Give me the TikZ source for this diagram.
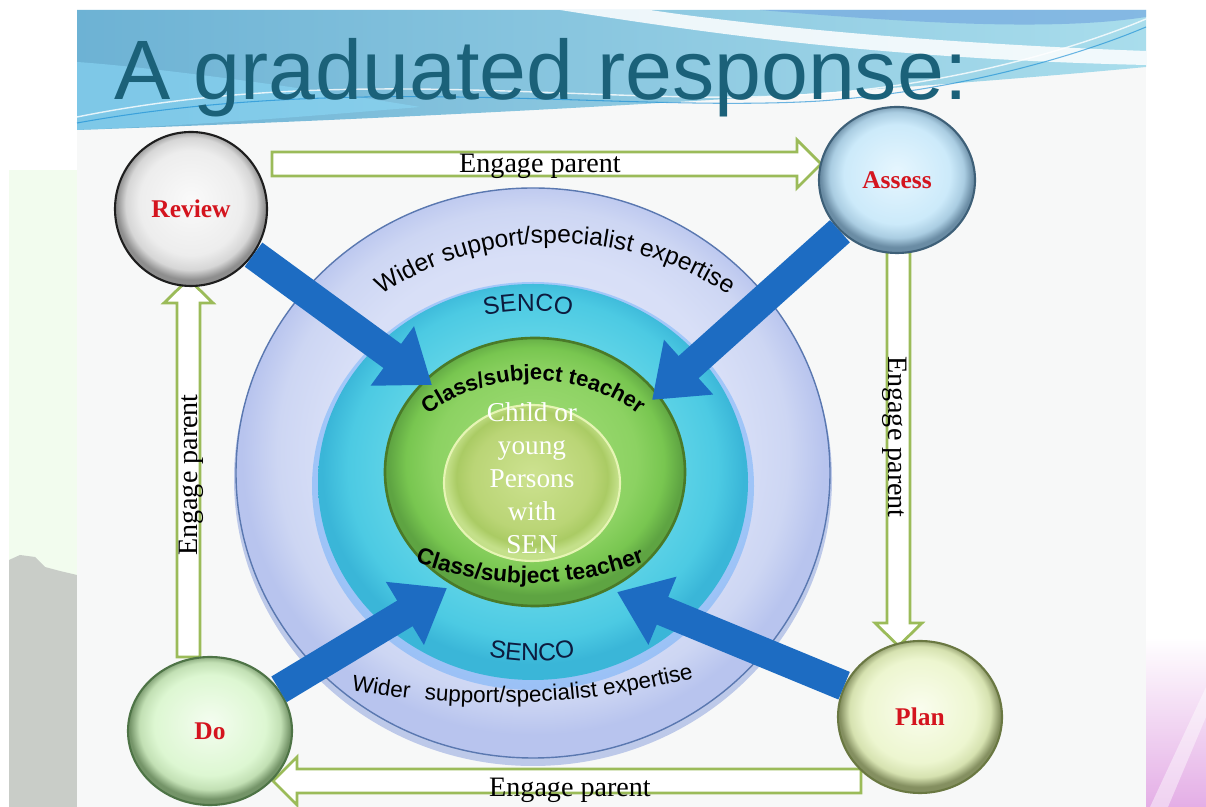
\documentclass[tikz,border=0pt]{standalone}
\usepackage{fontspec}
\setmainfont{Liberation Serif}
\setsansfont{Liberation Sans}
\usetikzlibrary{shapes.geometric,decorations.text,arrows.meta,calc}
\definecolor{titleC}{HTML}{1B6179}
\definecolor{hollowG}{HTML}{9BBB59}
\definecolor{blueA}{HTML}{1D6CC2}
\definecolor{labelRed}{HTML}{D4141E}
\definecolor{leftG}{HTML}{F2FCEE}
\definecolor{grayL}{HTML}{C9CDC8}
\definecolor{slideBG}{HTML}{F7F8F8}
\definecolor{bannerL}{HTML}{6DB2D4}
\definecolor{bannerR}{HTML}{A9DDEC}
\definecolor{ringEdge}{HTML}{5A78B0}
\definecolor{shadowBlue}{HTML}{8FA3DE}
\definecolor{greenEdge}{HTML}{4A7A28}
\definecolor{childEdge}{HTML}{E6F5B4}
\definecolor{senco}{HTML}{0D1B3E}
\definecolor{pinkR}{HTML}{E4AEE6}
\definecolor{revEdge}{HTML}{1E1E1E}
\definecolor{assEdge}{HTML}{3E6078}
\definecolor{doEdge}{HTML}{4E7446}
\definecolor{planEdge}{HTML}{6A7842}
\newcommand\mkshade[5]{%
  \definecolor{#1A}{HTML}{#2}\definecolor{#1B}{HTML}{#3}%
  \definecolor{#1C}{HTML}{#4}\definecolor{#1D}{HTML}{#5}%
  \pgfdeclareradialshading{#1}{\pgfpoint{0bp}{3bp}}{color(0bp)=(#1A); color(17bp)=(#1B); color(21.5bp)=(#1C); color(24.5bp)=(#1D); color(25bp)=(#1D); color(50bp)=(#1D)}}
\mkshade{revsh}{FAFAFA}{EDEDED}{D6D6D6}{8E8E8E}
\mkshade{asssh}{E6F6FE}{CCEAFA}{AACDE2}{6A8CA4}
\mkshade{dosh}{F4FDF0}{DDF7D2}{C2E0B4}{749468}
\mkshade{plansh}{FAFDEE}{EDF6D0}{D6E2B0}{848F60}
\mkshade{outersh}{DFE5F9}{D8DFF7}{CDD6F3}{B8C4EE}
\mkshade{sencosh}{6CD8EA}{5CD2E6}{4CCAE3}{3AB6D8}
\mkshade{greensh}{A6DE7C}{8CD262}{78C650}{5EA442}
\mkshade{childsh}{CDE290}{BAD576}{AACB64}{C4E08A}
\begin{document}
\begin{tikzpicture}[x=0.02cm, y=0.02cm,
  lbl/.style={font=\fontsize{16}{18}\selectfont, text=black, inner sep=0pt, anchor=base},
  hollow/.style={draw=hollowG, line width=1.6pt, fill=white, line join=miter},
  bluearr/.style={draw=blueA, line width=17pt, -{Triangle[width=40pt,length=28pt]}},
  corner/.style={ellipse, inner sep=0pt, shade, font=\fontsize{14.5}{17}\selectfont\bfseries, text=labelRed, line width=1.2pt},
  ringtext/.style={decorate, decoration={text along path, text align=center, text={#1}}}
]
\useasboundingbox (0,0) rectangle (1206,807);
% backgrounds
\fill[white] (0,0) rectangle (1206,807);
\fill[leftG] (9,0) rectangle (77,637);
\fill[grayL] (9,0) -- (9,247) -- (20,252) -- (35,250) -- (45,240) -- (60,236) -- (77,232) -- (77,0) -- cycle;
\shade[top color=white, bottom color=pinkR] (1146,0) rectangle (1206,170);
\fill[white, opacity=0.45] (1150,0) -- (1206,120) -- (1206,90) -- (1168,0) -- cycle;
\fill[slideBG] (77,0) rectangle (1146,797);
% banner
\shade[left color=bannerL, right color=bannerR] (77,797) -- (1146,797) -- (1146,740) .. controls (850,712) and (450,690) .. (77,677) -- cycle;
\fill[cyan!45!white, opacity=0.55] (77,677) .. controls (200,682) and (300,690) .. (420,700) .. controls (300,720) and (150,740) .. (77,745) -- cycle;
\fill[white, opacity=0.85] (560,797) .. controls (700,775) and (880,748) .. (1146,742) -- (1146,756) .. controls (900,765) and (730,785) .. (650,797) -- cycle;
\fill[cyan!60!blue!55!white, opacity=0.7] (760,797) .. controls (900,785) and (1050,775) .. (1146,790) -- (1146,797) -- cycle;
\draw[white, line width=0.8pt, opacity=0.8] (77,690) .. controls (350,745) and (600,700) .. (800,712) .. controls (950,720) and (1080,760) .. (1146,788);
\draw[cyan!70!blue, line width=0.6pt, opacity=0.6] (77,684) .. controls (360,735) and (620,694) .. (820,706) .. controls (960,716) and (1080,752) .. (1146,780);
\node[anchor=base west, inner sep=0pt, text=titleC, font=\sffamily\fontsize{48}{48}\selectfont] (title) at (114,707) {A graduated response:};
% concentric rings
\fill[shadowBlue, opacity=0.55] (533,328) ellipse [x radius=299, y radius=287];
\path[shade, shading=outersh, draw=ringEdge, line width=0.8pt] (533,334) ellipse [x radius=297, y radius=285];
\fill[blue!50!cyan, opacity=0.25] (533,321) ellipse [x radius=221, y radius=204];
\path[shade, shading=sencosh] (533,325) ellipse [x radius=215, y radius=198];
\path[shade, shading=greensh, draw=greenEdge, line width=1.5pt] (535,335) ellipse [x radius=150, y radius=134];
\path[shade, shading=childsh, draw=childEdge, line width=1.2pt] (532,324) ellipse [x radius=88, y radius=78];
% ring texts
\path[ringtext={|\sffamily\fontsize{14}{14}\selectfont\color{black}|Wider support/specialist expertise}] ($(555,248)+(135:316)$) arc[start angle=135, end angle=45, radius=316];
\path[ringtext={|\sffamily\fontsize{12.8}{12.8}\selectfont\color{black}|Wider{\kern5pt} support/specialist expertise}] ($(495,907)+(-108:803)$) arc[start angle=-108, end angle=-68, radius=803];
\path[ringtext={|\sffamily\fontsize{14}{14}\selectfont\color{senco}|SENCO}] ($(528,296)+(115:200)$) arc[start angle=115, end angle=65, radius=200];
\path[ringtext={|\sffamily\fontsize{14}{14}\selectfont\color{senco}|SENCO}] ($(532,346)+(-115:200)$) arc[start angle=-115, end angle=-65, radius=200];
\path[ringtext={|\sffamily\bfseries\fontsize{12.5}{12.5}\selectfont\color{black}|Class/subject teacher}] ($(533,247)+(140:180)$) arc[start angle=140, end angle=40, radius=180];
\path[ringtext={|\sffamily\bfseries\fontsize{13}{13}\selectfont\color{black}|Class/subject teacher}] ($(530,546)+(-115:322)$) arc[start angle=-115, end angle=-65, radius=322];
\node[font=\fontsize{15.5}{18.7}\selectfont, text=white, align=center, inner sep=0pt] (child) at (532,329) {Child or\\young\\Persons\\with\\SEN};
% hollow arrows
\draw[hollow] (272,631) -- (797,631) -- (797,619) -- (821,643) -- (797,667) -- (797,655) -- (272,655) -- cycle;
\draw[hollow] (887,555) -- (887,184) -- (875,184) -- (898.5,161) -- (922,184) -- (910,184) -- (910,555) -- cycle;
\draw[hollow] (861,38) -- (297,38) -- (297,50) -- (273,26) -- (297,2) -- (297,14) -- (861,14) -- cycle;
\draw[hollow] (177,150) -- (177,504) -- (164,504) -- (188.5,528) -- (213,504) -- (200,504) -- (200,150) -- cycle;
\node[lbl] (ep1) at (540,634) {Engage parent};
\node[lbl, rotate=-90] (ep2) at (888,370) {Engage parent};
\node[lbl] (ep3) at (570,10) {Engage parent};
\node[lbl, rotate=90] (ep4) at (197,332) {Engage parent};
% corner circles
\node[corner, minimum width=152*0.02cm, minimum height=154*0.02cm, draw=revEdge, shading=revsh] (rev) at (191,598) {Review};
\node[corner, minimum width=156*0.02cm, minimum height=146*0.02cm, draw=assEdge, shading=asssh] (ass) at (897,627) {Assess};
\node[corner, minimum width=164*0.02cm, minimum height=148*0.02cm, draw=doEdge, shading=dosh] (do) at (210,76) {Do};
\node[corner, minimum width=164*0.02cm, minimum height=152*0.02cm, draw=planEdge, shading=plansh] (plan) at (920,90) {Plan};
% blue arrows
\coordinate (t1) at (432,422);
\coordinate (t2) at (652,407);
\coordinate (t3) at (447,219);
\coordinate (t4) at (617,215);
\draw[bluearr] (rev) -- (t1);
\draw[bluearr] (ass) -- (t2);
\draw[bluearr] (do) -- (t3);
\draw[bluearr] (plan) -- (t4);
\end{tikzpicture}
\end{document}
